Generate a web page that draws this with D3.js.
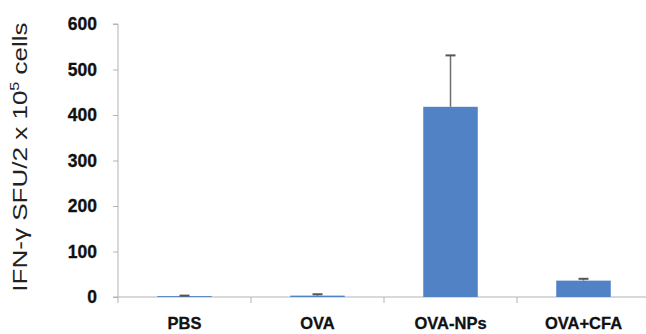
<!DOCTYPE html>
<html><head><meta charset="utf-8">
<script src="https://cdn.jsdelivr.net/npm/d3@7"></script>
<style>body{margin:0;background:#fff}svg{display:block}</style>
</head><body>
<script>
const categories = ["PBS", "OVA", "OVA-NPs", "OVA+CFA"];
const values = [2, 3, 418, 36];
const errors = [1, 3, 113, 4];
const yTicks = [0, 100, 200, 300, 400, 500, 600];

const W = 646, H = 334;
const svg = d3.select("body").append("svg").attr("width", W).attr("height", H);
const x0 = 118, x1 = 650, yBase = 297, yTop = 24;
const x = d3.scaleBand().domain(categories).range([x0, x1]).paddingInner(0.59).paddingOuter(0.295);
const y = d3.scaleLinear().domain([0, 600]).range([yBase, yTop]);
const axisCol = "#b3b3b3";
const font = "Liberation Sans, Arial, sans-serif";

// y axis
const ya = svg.append("g").attr("transform", `translate(${x0},0)`)
  .call(d3.axisLeft(y).tickValues(yTicks).tickSize(5).tickPadding(16));
ya.select(".domain").attr("stroke", axisCol).attr("d", `M-5,${yTop}H0V${yBase}`);
ya.selectAll(".tick line").attr("stroke", axisCol);
ya.selectAll(".tick text").attr("font-family", font)
  .attr("font-weight", "bold").attr("font-size", 17.5).attr("fill", "#111")
  .attr("stroke", "#111").attr("stroke-width", 0.3);

// x axis line & ticks at band boundaries
const step = x.step();
const bounds = d3.range(categories.length + 1).map(i => x0 + i * step);
svg.append("line").attr("x1", x0 - 5).attr("x2", W).attr("y1", yBase).attr("y2", yBase).attr("stroke", axisCol);
svg.selectAll(".xt").data(bounds).enter().append("line")
  .attr("x1", d => d).attr("x2", d => d).attr("y1", yBase).attr("y2", yBase + 6).attr("stroke", axisCol);

// bars
svg.selectAll(".bar").data(categories).enter().append("rect")
  .attr("x", d => x(d)).attr("width", x.bandwidth())
  .attr("y", (d, i) => y(values[i])).attr("height", (d, i) => yBase - y(values[i]))
  .attr("fill", "#5182c6");

// error bars
categories.forEach((c, i) => {
  const cx = x(c) + x.bandwidth() / 2;
  const top = y(values[i] + errors[i]);
  svg.append("line").attr("x1", cx).attr("x2", cx).attr("y1", y(values[i])).attr("y2", top)
    .attr("stroke", "#6e6e6e").attr("stroke-width", 1.5);
  svg.append("line").attr("x1", cx - 5).attr("x2", cx + 5).attr("y1", top).attr("y2", top)
    .attr("stroke", "#555").attr("stroke-width", 2);
});

// category labels
svg.selectAll(".cl").data(categories).enter().append("text")
  .attr("x", d => x(d) + x.bandwidth() / 2).attr("y", 329).attr("text-anchor", "middle")
  .attr("font-family", font).attr("font-weight", "bold")
  .attr("font-size", 16.5).attr("fill", "#111").attr("stroke", "#111").attr("stroke-width", 0.3)
  .text(d => d);

// y label
const yl = svg.append("text").attr("transform", "translate(27,157) rotate(-90) scale(1.24,1)")
  .attr("text-anchor", "middle").attr("font-family", font)
  .attr("font-size", 21).attr("fill", "#222");
yl.append("tspan").text("IFN-γ SFU/2 x 10");
yl.append("tspan").attr("dy", -8).attr("font-size", 13).text("5");
yl.append("tspan").attr("dy", 8).text(" cells");
</script>
</body></html>
